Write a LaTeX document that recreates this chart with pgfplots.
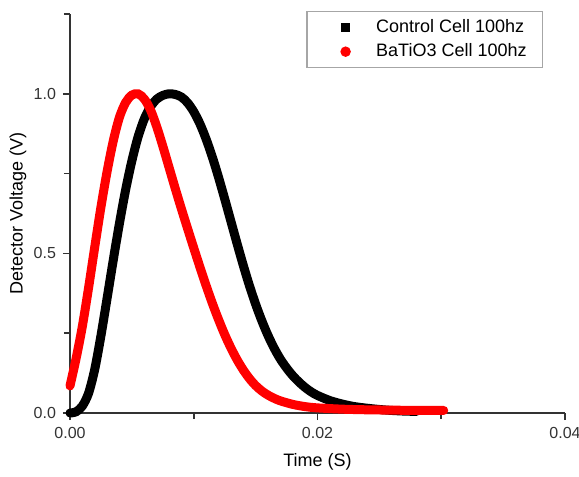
\documentclass[border=0pt]{standalone}
\usepackage{fontspec}
\setmainfont{Liberation Sans}
\usepackage{pgfplots}
\pgfplotsset{compat=1.18}

% pulse traces
\pgfplotstableread{
t       v
0.0000  0.000
0.0005  0.004
0.0010  0.022
0.0015  0.062
0.0020  0.137
0.0025  0.242
0.0030  0.360
0.0035  0.480
0.0040  0.595
0.0045  0.700
0.0050  0.790
0.0055  0.865
0.0060  0.921
0.0065  0.959
0.0070  0.983
0.0075  0.995
0.0080  1.000
0.0085  0.998
0.0090  0.990
0.0095  0.972
0.0100  0.944
0.0105  0.906
0.0110  0.858
0.0115  0.802
0.0120  0.739
0.0125  0.671
0.0130  0.601
0.0135  0.531
0.0140  0.463
0.0145  0.399
0.0150  0.341
0.0155  0.289
0.0160  0.243
0.0165  0.203
0.0170  0.169
0.0175  0.141
0.0180  0.117
0.0185  0.097
0.0190  0.080
0.0195  0.066
0.0200  0.055
0.0210  0.039
0.0220  0.028
0.0230  0.020
0.0240  0.015
0.0250  0.011
0.0260  0.008
0.0270  0.006
0.0280  0.005
}\control

\pgfplotstableread{
t       v
0.0000  0.085
0.0005  0.172
0.0010  0.272
0.0015  0.392
0.0020  0.520
0.0025  0.645
0.0030  0.757
0.0035  0.853
0.0040  0.927
0.0045  0.973
0.0050  0.996
0.0055  1.000
0.0060  0.984
0.0065  0.950
0.0070  0.898
0.0075  0.836
0.0080  0.770
0.0085  0.704
0.0090  0.640
0.0095  0.578
0.0100  0.517
0.0105  0.457
0.0110  0.399
0.0115  0.344
0.0120  0.293
0.0125  0.246
0.0130  0.204
0.0135  0.167
0.0140  0.135
0.0145  0.108
0.0150  0.086
0.0155  0.069
0.0160  0.056
0.0165  0.046
0.0170  0.038
0.0180  0.027
0.0190  0.020
0.0200  0.016
0.0220  0.012
0.0240  0.010
0.0260  0.009
0.0280  0.008
0.0302  0.008
}\batio

\begin{document}
\begin{tikzpicture}
\useasboundingbox (-35pt,-32pt) rectangle (254.5pt,206.5pt);
\begin{axis}[
  scale only axis,
  width=247.5pt, height=199.5pt,
  xmin=0, xmax=0.04, ymin=0, ymax=1.25,
  axis lines=left,
  axis line style={-, line width=0.8pt, black!80},
  xtick={0,0.02,0.04}, ytick={0,0.5,1.0},
  minor xtick={0.01,0.03}, minor ytick={0.25,0.75,1.25},
  tick align=outside,
  major tick length=3.5pt, minor tick length=3pt,
  tick style={line width=0.8pt, black!80},
  scaled x ticks=false,
  xticklabel style={/pgf/number format/.cd, fixed, fixed zerofill, precision=2},
  yticklabel style={/pgf/number format/.cd, fixed, fixed zerofill, precision=1},
  /pgf/number format/assume math mode=true,
  tick label style={font=\fontsize{8}{9}\selectfont, black!80},
  xlabel={Time (S)}, ylabel={Detector Voltage (V)},
  label style={font=\fontsize{9}{11}\selectfont},
  xlabel style={at={(axis description cs:0.5,-0.123)}, anchor=center},
  ylabel style={at={(axis description cs:-0.105,0.5)}, anchor=center},
  clip=false,
  legend style={at={(0.956,1.0075)}, anchor=north east, draw=gray!70,
    line width=0.6pt, font=\fontsize{9}{11}\selectfont,
    inner xsep=6pt, inner ysep=2pt, row sep=0pt},
  legend cell align=left,
  legend image code/.code={\draw[#1] plot coordinates {(13pt,0pt)}; \path (0pt,0pt) (26pt,0pt);},
]
\addplot[black, line width=4.5pt, smooth, line cap=round, forget plot] table[x=t,y=v] {\control};
\addplot[red, line width=4.5pt, smooth, line cap=round, forget plot] table[x=t,y=v] {\batio};
\addlegendimage{only marks, mark=square*, black, mark size=2pt}
\addlegendentry{Control Cell 100hz}
\addlegendimage{only marks, mark=*, red, mark size=2.3pt}
\addlegendentry{BaTiO3 Cell 100hz}
\end{axis}
\end{tikzpicture}
\end{document}
